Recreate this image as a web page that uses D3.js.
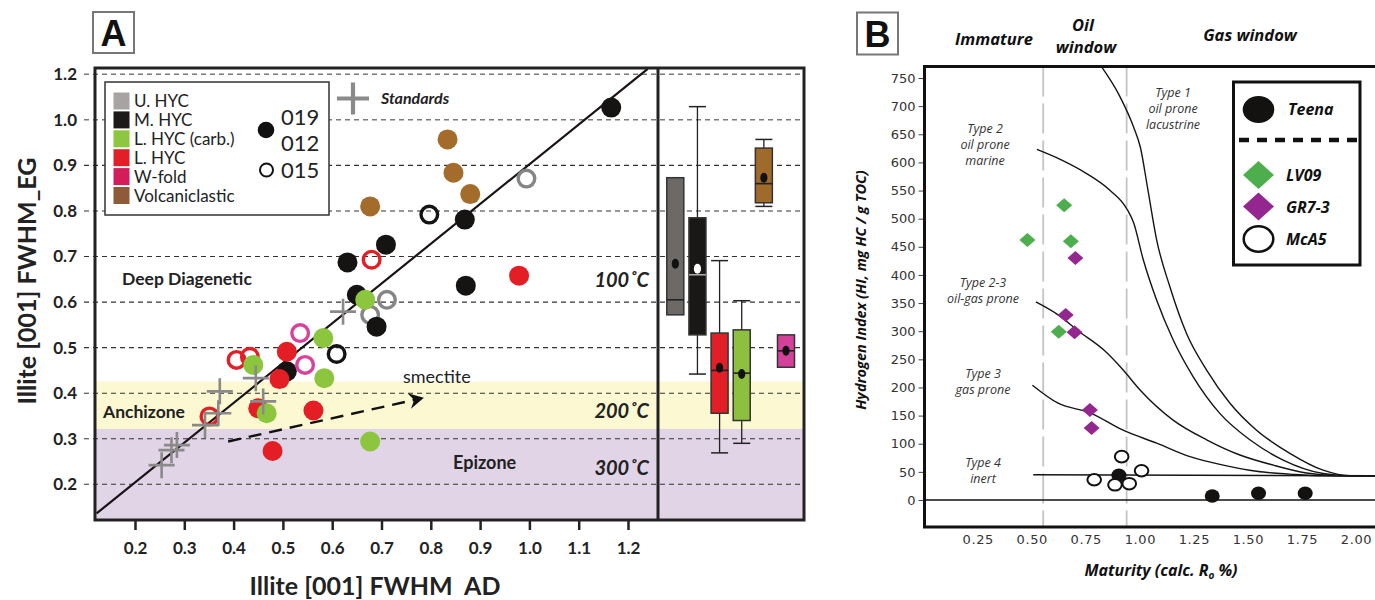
<!DOCTYPE html>
<html><head><meta charset="utf-8">
<script src="https://cdn.jsdelivr.net/npm/d3@7"></script>
<style>html,body{margin:0;padding:0;background:#fff;} svg{display:block}</style>
</head><body>
<svg id="chart" width="1375" height="600"></svg>
<script>
// ================= PANEL A DATA =================
const xTickValuesA = [0.2,0.3,0.4,0.5,0.6,0.7,0.8,0.9,1.0,1.1,1.2];
const xTickLabelsA = ["0.2","0.3","0.4","0.5","0.6","0.7","0.8","0.9","1.0","1.1","1.2"];
const yTickValuesA = [0.2,0.3,0.4,0.5,0.6,0.7,0.8,0.9,1.0,1.1];
const yTickLabelsA = ["0.2","0.3","0.4","0.5","0.6","0.7","0.8","0.9","1.0","1.2"];
const unitsA = ["U. HYC","M. HYC","L. HYC (carb.)","L. HYC","W-fold","Volcaniclastic"];
const setLabels = ["019","012","015"];

// samples: FWHM AD, FWHM EG, unit, set (filled = 019/012, open = 015)
const sampleUnit = [
 "U. HYC","U. HYC","U. HYC",
 "M. HYC","M. HYC","M. HYC","M. HYC","M. HYC","M. HYC","M. HYC","M. HYC",
 "M. HYC","M. HYC",
 "Volcaniclastic","Volcaniclastic","Volcaniclastic","Volcaniclastic",
 "L. HYC","L. HYC","L. HYC","L. HYC","L. HYC","L. HYC",
 "L. HYC","L. HYC","L. HYC","L. HYC",
 "L. HYC (carb.)","L. HYC (carb.)","L. HYC (carb.)","L. HYC (carb.)","L. HYC (carb.)","L. HYC (carb.)",
 "W-fold","W-fold"];
const sampleSet = [
 "015","015","015",
 "019/012","019/012","019/012","019/012","019/012","019/012","019/012","019/012",
 "015","015",
 "019/012","019/012","019/012","019/012",
 "019/012","019/012","019/012","019/012","019/012","019/012",
 "015","015","015","015",
 "019/012","019/012","019/012","019/012","019/012","019/012",
 "015","015"];
const sampleAD = [
 0.994,0.711,0.677,
 1.166,0.869,0.709,0.631,0.871,0.650,0.690,0.508,
 0.797,0.609,
 0.834,0.846,0.880,0.677,
 0.979,0.508,0.450,0.562,0.479,0.493,
 0.680,0.406,0.433,0.351,
 0.667,0.582,0.440,0.584,0.467,0.677,
 0.535,0.545];
const sampleEG = [
 0.871,0.605,0.572,
 1.027,0.781,0.726,0.687,0.636,0.616,0.546,0.448,
 0.792,0.486,
 0.957,0.884,0.837,0.810,
 0.658,0.491,0.367,0.362,0.273,0.431,
 0.693,0.473,0.480,0.349,
 0.605,0.521,0.462,0.433,0.356,0.294,
 0.532,0.462];

// standards
const stdAD = [0.622,0.445,0.372,0.460,0.369,0.342,0.285,0.274,0.254];
const stdEG = [0.579,0.433,0.404,0.382,0.356,0.330,0.286,0.275,0.242];

// 1:1 trend line and smectite arrow
const trendAD = [0.122,1.240];
const trendEG = [0.136,1.112];
const arrowAD = [0.389,0.786];
const arrowEG = [0.294,0.390];

// zones
const zoneNames = ["Deep Diagenetic","Anchizone","Epizone"];
const zoneBounds = [0.3215,0.4255];
const tempLabels = ["100˚C","200˚C","300˚C"];

// box plots
const boxUnits = ["U. HYC","M. HYC","L. HYC","L. HYC (carb.)","Volcaniclastic","W-fold"];
const boxLow  = [null,0.442,0.269,0.290,0.810,null];
const boxQ1   = [0.572,0.528,0.356,0.340,0.818,0.457];
const boxMed  = [0.605,0.660,0.450,0.444,0.860,0.493];
const boxQ3   = [0.873,0.785,0.532,0.539,0.938,0.528];
const boxHigh = [null,1.029,0.691,0.603,0.957,null];
const boxMean = [0.684,0.673,0.456,0.442,0.873,0.493];

// ================= PANEL B DATA =================
const roTicks = [0.25,0.5,0.75,1.0,1.25,1.5,1.75,2.0];
const roTickLabels = ["0.25","0.50","0.75","1.00","1.25","1.50","1.75","2.00"];
const hiTicks = [0,50,100,150,200,250,300,350,400,450,500,550,600,650,700,750];
const windowRo = [0.553,0.939];
const windowNames = ["Immature","Oil window","Gas window"];

const type1Ro = [0.821,0.908,0.971,1.003,1.037,1.078,1.139,1.216,1.309,1.417,1.540,1.694,1.848,1.972,2.09];
const type1HI = [771,717,663,626,552,462,379,296,231,172,124,83,53,43,43];
const type2Ro = [0.524,0.639,0.750,0.860,0.939,0.971,1.016,1.078,1.155,1.247,1.370,1.509,1.663,1.848,1.972,2.09];
const type2HI = [623,604,581,551,518,493,427,355,284,219,154,107,71,47,43,43];
const type23Ro = [0.519,0.622,0.717,0.835,0.923,1.0,1.154,1.309,1.463,1.617,1.771,1.925,2.09];
const type23HI = [352,329,300,266,231,196,142,107,80,62,48,43,43];
const type3Ro = [0.503,0.622,0.770,0.923,1.078,1.232,1.386,1.540,1.694,1.848,2.09];
const type3HI = [204,172,155,124,101,77,62,51,46,43,43];
const type4Ro = [0.507,2.09];
const type4HI = [45,43];
const typeLabels = [["Type 1","oil prone","lacustrine"],["Type 2","oil prone","marine"],["Type 2-3","oil-gas prone"],["Type 3","gas prone"],["Type 4","inert"]];

const seriesB = ["Teena","LV09","GR7-3","McA5"];
const teenaRo = [0.903,1.335,1.549,1.765];
const teenaHI = [44,7,12,12];
const lv09Ro = [0.650,0.480,0.681,0.625];
const lv09HI = [524,462,460,299];
const gr73Ro = [0.702,0.657,0.698,0.769,0.777];
const gr73HI = [430,329,298,160,128];
const mca5Ro = [0.789,0.885,0.951,1.008,0.916];
const mca5HI = [36,27,29,52,77];

// ================= DRAW =================
const svg = d3.select("#chart");
const fA = "Lato, 'Open Sans', sans-serif";
const fB = "'Open Sans', sans-serif";

const unitFill = {"U. HYC":"#a6a3a2","M. HYC":"#1d1b19","L. HYC (carb.)":"#8dc63f","L. HYC":"#e21e26","W-fold":"#d41c5b","Volcaniclastic":"#8f5a38"};
const unitPoint = {"U. HYC":"#858585","M. HYC":"#161412","L. HYC (carb.)":"#8cc63e","L. HYC":"#e31e25","W-fold":"#d9419a","Volcaniclastic":"#a46c2b"};
const boxFill = {"U. HYC":"#6d6967","M. HYC":"#1a1816","L. HYC":"#e21f26","L. HYC (carb.)":"#8dc03f","Volcaniclastic":"#a06a2a","W-fold":"#d5409b"};

// ---- Panel A layout
const A = {l:95, r:804, t:68, b:520, div:658};
const xA = d3.scaleLinear().domain([0.2,1.2]).range([135,628]);
const yA = d3.scaleLinear().domain([0.2,1.1]).range([484.3,74.3]);

const gA = svg.append("g");
// bands
gA.append("rect").attr("x",A.l).attr("width",A.r-A.l)
  .attr("y",yA(zoneBounds[1])).attr("height",yA(zoneBounds[0])-yA(zoneBounds[1])).attr("fill","#fbf8d2");
gA.append("rect").attr("x",A.l).attr("width",A.r-A.l)
  .attr("y",yA(zoneBounds[0])).attr("height",A.b-yA(zoneBounds[0])).attr("fill","#e0d4e6");

// gridlines
yTickValuesA.forEach((v,i)=>{
  const top = v>=1.0;
  gA.append("line").attr("x1",84).attr("x2",A.r).attr("y1",yA(v)).attr("y2",yA(v))
    .attr("stroke", top?"#7a7a7a":"#333").attr("stroke-width", top?1.5:1.1)
    .attr("stroke-dasharray","5,4");
});
// y labels
const yAxA = d3.axisLeft(yA).tickValues(yTickValuesA).tickFormat((d,i)=>yTickLabelsA[i]).tickSize(0).tickPadding(0);
const gyA = gA.append("g").attr("transform","translate(77,0)").call(yAxA);
gyA.select(".domain").remove();
gyA.selectAll("text").attr("font-family",fA).attr("font-weight","bold").attr("font-size",17).attr("fill","#222");

// x axis
const xAxA = d3.axisBottom(xA).tickValues(xTickValuesA).tickFormat((d,i)=>xTickLabelsA[i]).tickSize(10).tickPadding(12);
const gxA = gA.append("g").attr("transform",`translate(0,${A.b})`).call(xAxA);
gxA.select(".domain").remove();
gxA.selectAll("line").attr("stroke","#222").attr("stroke-width",2.5);
gxA.selectAll("text").attr("font-family",fA).attr("font-weight","bold").attr("font-size",17).attr("fill","#222");

// clip for scatter region
svg.append("clipPath").attr("id","clipA").append("rect").attr("x",A.l).attr("y",A.t).attr("width",A.div-A.l).attr("height",A.b-A.t);
const gS = gA.append("g").attr("clip-path","url(#clipA)");

// trend line
gS.append("line").attr("x1",xA(trendAD[0])).attr("y1",yA(trendEG[0])).attr("x2",xA(trendAD[1])).attr("y2",yA(trendEG[1]))
  .attr("stroke","#1a1216").attr("stroke-width",2.2);

// smectite arrow
const ax1=xA(arrowAD[0]), ay1=yA(arrowEG[0]), ax2=xA(arrowAD[1]), ay2=yA(arrowEG[1]);
const ang = Math.atan2(ay2-ay1, ax2-ax1);
const shorten = 8;
gS.append("line").attr("x1",ax1).attr("y1",ay1).attr("x2",ax2-shorten*Math.cos(ang)).attr("y2",ay2-shorten*Math.sin(ang))
  .attr("stroke","#111").attr("stroke-width",2.4).attr("stroke-dasharray","13,8");
gS.append("path").attr("d","M0,0 L-15,-8 L-10,0 L-15,8 Z").attr("fill","#111")
  .attr("transform",`translate(${ax2},${ay2}) rotate(${ang*180/Math.PI})`);

// samples: draw order by unit
const drawOrder = ["U. HYC","M. HYC","Volcaniclastic","L. HYC","L. HYC (carb.)","W-fold"];
const samples = sampleAD.map((d,i)=>({ad:d,eg:sampleEG[i],unit:sampleUnit[i],set:sampleSet[i]}));
samples.sort((a,b)=>drawOrder.indexOf(a.unit)-drawOrder.indexOf(b.unit));
samples.forEach(s=>{
  const c = gS.append("circle").attr("cx",xA(s.ad)).attr("cy",yA(s.eg));
  if(s.set==="015"){
    c.attr("r",8.3).attr("fill","none").attr("stroke",unitPoint[s.unit]).attr("stroke-width",3.4);
  } else {
    c.attr("r",10).attr("fill",unitPoint[s.unit]);
  }
});
// standards crosses
stdAD.forEach((d,i)=>{
  const cx=xA(d), cy=yA(stdEG[i]);
  gS.append("path").attr("d",`M${cx-13},${cy}H${cx+13}M${cx},${cy-13}V${cy+13}`)
    .attr("stroke","#8a8a8a").attr("stroke-width",2.6).attr("fill","none");
});

// box plots
const boxX = d3.scalePoint().domain(boxUnits).range([675.3,786]);
const bw = 17;
boxUnits.forEach((u,i)=>{
  const cx = boxX(u);
  const g = gA.append("g");
  if(boxLow[i]!==null){
    g.append("line").attr("x1",cx).attr("x2",cx).attr("y1",yA(boxHigh[i])).attr("y2",yA(boxLow[i])).attr("stroke","#222").attr("stroke-width",1.3);
    [boxHigh[i],boxLow[i]].forEach(v=>g.append("line").attr("x1",cx-bw/2).attr("x2",cx+bw/2).attr("y1",yA(v)).attr("y2",yA(v)).attr("stroke","#222").attr("stroke-width",1.5));
  }
  g.append("rect").attr("x",cx-bw/2).attr("width",bw).attr("y",yA(boxQ3[i])).attr("height",yA(boxQ1[i])-yA(boxQ3[i]))
    .attr("fill",boxFill[u]).attr("stroke","#333").attr("stroke-width",1.5);
  g.append("line").attr("x1",cx-bw/2).attr("x2",cx+bw/2).attr("y1",yA(boxMed[i])).attr("y2",yA(boxMed[i]))
    .attr("stroke", u==="M. HYC"?"#aaa":"#222").attr("stroke-width",1.6);
  g.append("ellipse").attr("cx",cx).attr("cy",yA(boxMean[i])).attr("rx",3.6).attr("ry",5)
    .attr("fill", u==="M. HYC"?"#fff":"#111");
});

// zone texts
const zText = (t,x,y,size,style)=>gA.append("text").attr("x",x).attr("y",y).text(t)
  .attr("font-family",fA).attr("font-weight","bold").attr("font-size",size).attr("font-style",style||"normal").attr("fill","#222");
zText(zoneNames[0],122,285,17.5);
zText(zoneNames[1],103,418,17.5);
zText(zoneNames[2],453,469,18);
[[tempLabels[0],0.649],[tempLabels[1],0.36],[tempLabels[2],0.235]].forEach(([t,v])=>{
  zText(t,649,yA(v)+7,20,"italic").attr("text-anchor","end");
});
gA.append("text").attr("x",403).attr("y",383).text("smectite").attr("font-family",fA).attr("font-size",18).attr("fill","#222");

// Standards key
gA.append("path").attr("d","M337,98.5H369M353,82.5V114.5").attr("stroke","#8a8a8a").attr("stroke-width",4.2);
zText("Standards",381,104,16,"italic");

// legend A
gA.append("rect").attr("x",105).attr("y",82).attr("width",224).attr("height",133).attr("fill","#fff").attr("stroke","#333").attr("stroke-width",1.5);
unitsA.forEach((u,i)=>{
  const cy = 101+i*18.9;
  gA.append("rect").attr("x",113.5).attr("y",cy-8.5).attr("width",16).attr("height",17).attr("fill",unitFill[u]);
  gA.append("text").attr("x",134).attr("y",cy+6).text(u).attr("font-family",fA).attr("font-size",17).attr("fill","#222");
});
gA.append("circle").attr("cx",266).attr("cy",130).attr("r",8.3).attr("fill","#111");
gA.append("circle").attr("cx",266.5).attr("cy",170).attr("r",6.5).attr("fill","none").attr("stroke","#111").attr("stroke-width",2);
setLabels.forEach((s,i)=>{
  gA.append("text").attr("x",281).attr("y",[124.5,151,178][i]).text(s).attr("font-family",fA).attr("font-size",22).attr("fill","#222");
});

// frame A
gA.append("rect").attr("x",A.l).attr("y",A.t).attr("width",A.r-A.l).attr("height",A.b-A.t).attr("fill","none").attr("stroke","#222").attr("stroke-width",3);
gA.append("line").attr("x1",A.div).attr("x2",A.div).attr("y1",A.t).attr("y2",A.b).attr("stroke","#222").attr("stroke-width",3);

// titles A
gA.append("text").attr("transform","translate(27,281) rotate(-90)").attr("text-anchor","middle").attr("dy","0.35em")
  .text("Illite [001] FWHM_EG").attr("font-family",fA).attr("font-weight","bold").attr("font-size",25).attr("fill","#222");
gA.append("text").attr("x",375).attr("y",595).attr("text-anchor","middle").attr("xml:space","preserve")
  .text("Illite [001] FWHM  AD").attr("font-family",fA).attr("font-weight","bold").attr("font-size",25).attr("fill","#222")
  .style("white-space","pre");
// A label box
gA.append("rect").attr("x",93).attr("y",12).attr("width",41).attr("height",41).attr("fill","#fff").attr("stroke","#777").attr("stroke-width",2);
gA.append("text").attr("x",113.5).attr("y",46).attr("text-anchor","middle").text("A").attr("font-family","'Liberation Sans', Arial, sans-serif").attr("font-weight","bold").attr("font-size",36).attr("fill","#111");

// ================= PANEL B =================
const B = {l:924.5, r:1380, t:66.5, b:527};
const xB = d3.scaleLinear().domain([0.25,2.0]).range([977.7,1356]);
const yB = d3.scaleLinear().domain([0,750]).range([500,78]);
const gB = svg.append("g");

svg.append("clipPath").attr("id","clipB").append("rect").attr("x",B.l).attr("y",B.t).attr("width",B.r-B.l).attr("height",B.b-B.t);
const gBc = gB.append("g").attr("clip-path","url(#clipB)");

windowRo.forEach(v=>{
  gBc.append("line").attr("x1",xB(v)).attr("x2",xB(v)).attr("y1",B.t).attr("y2",B.b)
    .attr("stroke","#c4c4c4").attr("stroke-width",1.8).attr("stroke-dasharray","30,7");
});
gBc.append("line").attr("x1",B.l).attr("x2",B.r).attr("y1",yB(0)).attr("y2",yB(0)).attr("stroke","#111").attr("stroke-width",1.4);

const lineB = d3.line().x(d=>xB(d[0])).y(d=>yB(d[1])).curve(d3.curveMonotoneX);
[[type1Ro,type1HI],[type2Ro,type2HI],[type23Ro,type23HI],[type3Ro,type3HI],[type4Ro,type4HI]].forEach(([rx,hy])=>{
  gBc.append("path").attr("d",lineB(rx.map((r,i)=>[r,hy[i]]))).attr("fill","none").attr("stroke","#151515").attr("stroke-width",1.4);
});

// type labels
const typePos = [[1173,93],[985,129],[983,283],[983,374],[983,463]];
typeLabels.forEach((lines,i)=>{
  lines.forEach((t,j)=>{
    gB.append("text").attr("x",typePos[i][0]).attr("y",typePos[i][1]+j*16+4).attr("text-anchor","middle")
      .text(t).attr("font-family",fB).attr("font-style","italic").attr("font-size",12.5).attr("fill","#333");
  });
});

// points
const diamond = (w,h)=>`M0,${-h}L${w},0L0,${h}L${-w},0Z`;
teenaRo.forEach((r,i)=>gBc.append("ellipse").attr("cx",xB(r)).attr("cy",yB(teenaHI[i])).attr("rx",7.5).attr("ry",6.8).attr("fill","#141210"));
mca5Ro.forEach((r,i)=>gBc.append("ellipse").attr("cx",xB(r)).attr("cy",yB(mca5HI[i])).attr("rx",6.8).attr("ry",5.8).attr("fill","#fff").attr("stroke","#111").attr("stroke-width",2));
lv09Ro.forEach((r,i)=>gBc.append("path").attr("d",diamond(8,7)).attr("transform",`translate(${xB(r)},${yB(lv09HI[i])})`).attr("fill","#4cae4c"));
gr73Ro.forEach((r,i)=>gBc.append("path").attr("d",diamond(8,7)).attr("transform",`translate(${xB(r)},${yB(gr73HI[i])})`).attr("fill","#93278f"));

// axes B
const yAxB = d3.axisLeft(yB).tickValues(hiTicks).tickSize(6).tickPadding(3);
const gyB = gB.append("g").attr("transform",`translate(${B.l},0)`).call(yAxB);
gyB.select(".domain").remove();
gyB.selectAll("line").attr("stroke","#444");
gyB.selectAll("text").attr("font-family","'DejaVu Sans', sans-serif").attr("font-size",13).attr("fill","#333");
const xAxB = d3.axisBottom(xB).tickValues(roTicks).tickFormat((d,i)=>roTickLabels[i]).tickSize(0).tickPadding(0);
const gxB = gB.append("g").attr("transform",`translate(0,535)`).call(xAxB);
gxB.select(".domain").remove();
gxB.selectAll("text").attr("font-family","'DejaVu Sans', sans-serif").attr("font-size",13).attr("fill","#333").attr("letter-spacing","0.6");

// frame B
gB.append("rect").attr("x",B.l).attr("y",B.t).attr("width",B.r-B.l).attr("height",B.b-B.t).attr("fill","none").attr("stroke","#111").attr("stroke-width",3);

// legend B
gB.append("rect").attr("x",1233.5).attr("y",82).attr("width",126.5).attr("height",183).attr("fill","#fff").attr("stroke","#111").attr("stroke-width",3);
gB.append("ellipse").attr("cx",1258.5).attr("cy",109.5).attr("rx",15.8).attr("ry",13.5).attr("fill","#141210");
gB.append("line").attr("x1",1239).attr("x2",1357).attr("y1",140).attr("y2",140).attr("stroke","#111").attr("stroke-width",4.5).attr("stroke-dasharray","10,8");
gB.append("path").attr("d",diamond(15.5,14)).attr("transform","translate(1258.5,175)").attr("fill","#4cae4c");
gB.append("path").attr("d",diamond(15.5,14)).attr("transform","translate(1258.5,206.5)").attr("fill","#93278f");
gB.append("ellipse").attr("cx",1258.5).attr("cy",239).attr("rx",14.8).attr("ry",12.8).attr("fill","#fff").attr("stroke","#111").attr("stroke-width",2.5);
[[seriesB[0],1288,115],[seriesB[1],1286,181],[seriesB[2],1286,212.5],[seriesB[3],1286,245]].forEach(([t,x,y])=>{
  gB.append("text").attr("x",x).attr("y",y).text(t).attr("font-family",fB).attr("font-weight","bold").attr("font-style","italic").attr("font-size",16).attr("fill","#111");
});

// header labels
const hdr = (t,x,y)=>gB.append("text").attr("x",x).attr("y",y).attr("text-anchor","middle").text(t)
  .attr("font-family",fB).attr("font-weight","bold").attr("font-style","italic").attr("font-size",16.5).attr("fill","#111");
hdr(windowNames[0],994,45);
hdr("Oil",1083,31);
hdr("window",1086,53);
hdr(windowNames[2],1250,41);

// titles B
gB.append("text").attr("transform","translate(861,290) rotate(-90)").attr("text-anchor","middle").attr("dy","0.35em")
  .text("Hydrogen Index (HI, mg HC / g TOC)").attr("font-family",fB).attr("font-weight","bold").attr("font-style","italic").attr("font-size",14.5).attr("fill","#111");
const tx = gB.append("text").attr("x",1161).attr("y",576).attr("text-anchor","middle")
  .attr("font-family",fB).attr("font-weight","bold").attr("font-style","italic").attr("font-size",16).attr("fill","#111");
tx.append("tspan").text("Maturity (calc. R");
tx.append("tspan").text("o").attr("font-size",10).attr("dy",3);
tx.append("tspan").text(" %)").attr("dy",-3);

// B label box
gB.append("rect").attr("x",857).attr("y",12.5).attr("width",41).attr("height",42).attr("fill","#fff").attr("stroke","#777").attr("stroke-width",2);
gB.append("text").attr("x",877.5).attr("y",47).attr("text-anchor","middle").text("B").attr("font-family","'Liberation Sans', Arial, sans-serif").attr("font-weight","bold").attr("font-size",36).attr("fill","#111");
</script>
</body></html>
